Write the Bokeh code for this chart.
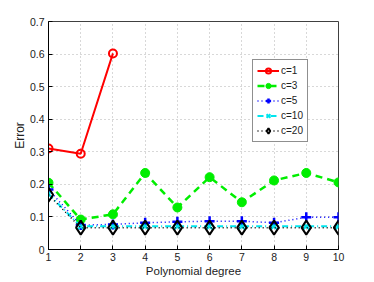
from bokeh.plotting import figure
from bokeh.embed import file_html
from bokeh.resources import INLINE
from bokeh.models import Range1d, FixedTicker

degree = [1, 2, 3, 4, 5, 6, 7, 8, 9, 10]
c1_deg = [1, 2, 3]
c1 = [0.310, 0.294, 0.602]
c3 = [0.205, 0.092, 0.108, 0.235, 0.129, 0.222, 0.145, 0.212, 0.235, 0.206]
c5 = [0.184, 0.075, 0.077, 0.082, 0.085, 0.087, 0.087, 0.082, 0.099, 0.099]
c10 = [0.170, 0.071, 0.071, 0.071, 0.071, 0.071, 0.071, 0.071, 0.071, 0.071]
c20 = [0.168, 0.067, 0.067, 0.067, 0.067, 0.067, 0.067, 0.067, 0.067, 0.067]
y_ticks = [0, 0.1, 0.2, 0.3, 0.4, 0.5, 0.6, 0.7]
y_tick_labels = ["0", "0.1", "0.2", "0.3", "0.4", "0.5", "0.6", "0.7"]

FONT = "Liberation Sans"

p = figure(frame_width=290, frame_height=228, output_backend="svg", toolbar_location=None,
           x_range=Range1d(1, 10), y_range=Range1d(0, 0.7),
           min_border_left=48, min_border_top=21, min_border_right=20, min_border_bottom=24)
p.background_fill_color = "white"
p.border_fill_color = "white"
p.outline_line_color = "#404040"
p.outline_line_width = 1

p.xaxis.ticker = FixedTicker(ticks=degree)
p.yaxis.ticker = FixedTicker(ticks=y_ticks)
p.yaxis.major_label_overrides = {t: l for t, l in zip(y_ticks, y_tick_labels)}
for ax in (p.xaxis[0], p.yaxis[0]):
    ax.major_tick_in = 4
    ax.major_tick_out = 0
    ax.minor_tick_in = 0
    ax.minor_tick_out = 0
    ax.axis_line_color = "black"
    ax.major_tick_line_color = "black"
    ax.major_label_text_font = FONT
    ax.major_label_text_font_size = "10.5px"
    ax.major_label_text_color = "#222222"
    ax.axis_label_text_font = FONT
    ax.axis_label_text_font_size = "11.5px"
    ax.axis_label_text_font_style = "normal"
    ax.axis_label_text_color = "#222222"
p.yaxis.axis_label_text_font_size = "12px"
p.xaxis.axis_label = "Polynomial degree"
p.yaxis.axis_label = "Error"
p.xaxis.major_label_standoff = 3
p.xaxis.axis_label_standoff = 1
p.yaxis.major_label_standoff = 4
p.yaxis.axis_label_standoff = 0

p.grid.grid_line_color = "#b0b0b0"
p.grid.grid_line_dash = "1 3"
p.grid.grid_line_width = 1

# c=1
p.line(c1_deg, c1, line_color="#ff0000", line_width=2, legend_label="c=1")
p.scatter(c1_deg, c1, marker="circle", size=8, line_color="#ff0000", line_width=2,
          fill_color=None, legend_label="c=1")
# c=3
p.line(degree, c3, line_color="#00ee00", line_width=2.5, line_dash="7 5", legend_label="c=3")
p.scatter(degree, c3, marker="circle", size=9, line_color="#00ee00", fill_color="#00ee00",
          legend_label="c=3")
# c=5
p.line(degree, c5, line_color="#0000ff", line_width=1.5, line_dash="1 3", legend_label="c=5")
p.scatter(degree, c5, marker="cross", size=10, line_color="#0000ff", line_width=2.5,
          legend_label="c=5")
# c=10
p.line(degree, c10, line_color="#00e5ee", line_width=2, line_dash="6 3 1 3", legend_label="c=10")
p.scatter(degree, c10, marker="x", size=8, line_color="#00e5ee", line_width=2,
          legend_label="c=10")
# c=20
p.line(degree, c20, line_color="black", line_width=1.5, line_dash="1 3", legend_label="c=20")
p.scatter(degree, c20, marker="diamond", size=14, line_color="black", line_width=2,
          fill_color=None, legend_label="c=20")

lg = p.legend[0]
lg.location = (204, 107)
lg.background_fill_color = "white"
lg.background_fill_alpha = 1
lg.border_line_color = "#202020"
lg.border_line_width = 1
lg.label_text_font = FONT
lg.label_text_font_size = "10px"
lg.label_text_color = "#222222"
lg.glyph_width = 22
lg.glyph_height = 13
lg.label_height = 13
lg.label_width = 10
lg.label_standoff = 2
lg.spacing = 2
lg.padding = 4
lg.margin = 0

open("out.html", "w").write(file_html(p, INLINE))
